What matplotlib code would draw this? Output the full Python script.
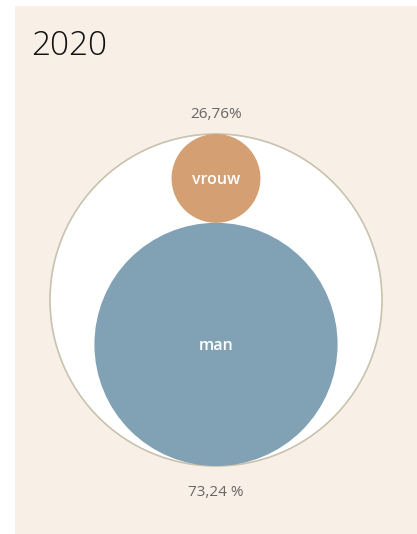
import matplotlib
matplotlib.use("Agg")
import matplotlib.pyplot as plt
from matplotlib.patches import Circle, Rectangle

# Data
title = "2020"
categories = ["vrouw", "man"]
values = [26.76, 73.24]
value_labels = ["26,76%", "73,24 %"]
colors = ["#D4A073", "#81A1B4"]

W, H = 417, 534
fig = plt.figure(figsize=(W / 100, H / 100), dpi=100)
ax = fig.add_axes([0, 0, 1, 1])
ax.set_xlim(0, W)
ax.set_ylim(H, 0)
ax.set_aspect("equal")
ax.axis("off")

font = "Open Sans"

# panel background
ax.add_patch(Rectangle((15, 6), W - 15, H - 6, facecolor="#F8EFE6", edgecolor="none", zorder=0))

ax.text(31, 46, title, fontsize=24, family=font, color="#111111", ha="left", va="center",
        fontweight="light")

# outer circle
cx, cy, R = 216, 300, 166
ax.add_patch(Circle((cx, cy), R, facecolor="white", edgecolor="#C8C2AE", linewidth=1.2, zorder=1))

total = sum(values)
top = cy - R
bottom = cy + R
# vrouw at top, man at bottom; radii proportional to share
r0 = R * values[0] / total
r1 = R * values[1] / total
centers = [top + r0, bottom - r1]
radii = [r0, r1]
for cat, c, r, col in zip(categories, centers, radii, colors):
    ax.add_patch(Circle((cx, c), r, facecolor=col, edgecolor="none", zorder=2))
    ax.text(cx, c + 2, cat, fontsize=11.5, family=font, color="white", ha="center",
            va="center", zorder=3, fontweight="semibold")

ax.text(cx, top - 19, value_labels[0], fontsize=11, family=font, color="#666666",
        ha="center", va="center")
ax.text(cx, bottom + 27, value_labels[1], fontsize=11, family=font, color="#666666",
        ha="center", va="center")

fig.savefig("out.png", dpi=100)
